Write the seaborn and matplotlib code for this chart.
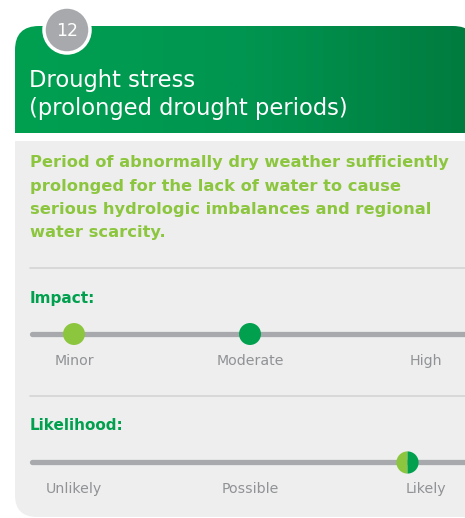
import numpy as np
import matplotlib
matplotlib.use("Agg")
import matplotlib.pyplot as plt
from matplotlib.patches import FancyBboxPatch, Rectangle
import seaborn as sns

# card content
card_number = "12"
title_lines = ["Drought stress", "(prolonged drought periods)"]
description = ["Period of abnormally dry weather sufficiently",
               "prolonged for the lack of water to cause",
               "serious hydrologic imbalances and regional",
               "water scarcity."]

impact_levels = ["Minor", "Moderate", "High"]
likelihood_levels = ["Unlikely", "Possible", "Likely"]

# rating positions on each 0..2 scale (light = current, dark = future)
impact_current = 0.0
impact_future = 1.0
likelihood_current = 1.89
likelihood_future = 1.89

GREEN = "#00a04f"
LIGHT = "#8cc63f"
TRACK = "#a7a9ac"
PANEL = "#eeeeee"
LABEL = "#909295"

sns.set_style("white")
plt.rcParams["font.family"] = ["DejaVu Sans"]

fig = plt.figure(figsize=(4.65, 5.18), dpi=100)
ax = fig.add_axes([0, 0, 1, 1])

# header with gradient
clip = FancyBboxPatch((15, 26), 462, 140, boxstyle="round,pad=0,rounding_size=24",
                      facecolor="none", edgecolor="none")
ax.add_patch(clip)
grad = np.linspace(0, 1, 256).reshape(1, -1)
cmap = matplotlib.colors.LinearSegmentedColormap.from_list("hdr", ["#00a050", "#009550", "#007a3e"])
im = ax.imshow(grad, extent=[15, 477, 133, 26], cmap=cmap, aspect="auto", zorder=1)
im.set_clip_path(clip)

for i, line in enumerate(title_lines):
    ax.text(29, 81 + i * 27, line, color="white", fontsize=16.3, va="center", ha="left", zorder=3)

# number badge
ax.add_patch(plt.Circle((67, 30), 23, facecolor=TRACK, edgecolor="white", linewidth=2.5, zorder=4))
ax.text(67, 31, card_number, color="white", fontsize=12.5, ha="center", va="center", zorder=5)

# body panel
ax.add_patch(FancyBboxPatch((15, 141), 500, 376, boxstyle="round,pad=0,rounding_size=22",
                            facecolor=PANEL, edgecolor="none", zorder=1))
ax.add_patch(Rectangle((15, 141), 500, 60, facecolor=PANEL, edgecolor="none", zorder=1))

for i, line in enumerate(description):
    ax.text(30, 163 + i * 23.3, line, color=LIGHT, fontsize=11.7, fontweight="bold",
            va="center", ha="left", zorder=3)

ax.plot([30, 470], [268, 268], color="#d4d4d4", lw=1.2, zorder=2)
ax.plot([30, 470], [396, 396], color="#d4d4d4", lw=1.2, zorder=2)


def scale(v):
    return 74 + 176 * v


def slider(label, label_y, track_y, levels, current, future):
    ax.text(30, label_y, label, color=GREEN, fontsize=11, fontweight="bold",
            va="center", ha="left", zorder=3)
    sns.lineplot(x=[32, 470], y=[track_y, track_y], color=TRACK, lw=3.8, ax=ax,
                 solid_capstyle="round", zorder=2)
    for i, lev in enumerate(levels):
        ax.text(scale(i), track_y + 27, lev, color=LABEL, fontsize=10.2,
                ha="center", va="center", zorder=3)
    if current == future:
        ax.plot(scale(current), track_y, marker="o", ms=16, fillstyle="left",
                markerfacecolor=LIGHT, markerfacecoloralt=GREEN, markeredgewidth=0, zorder=5)
    else:
        sns.scatterplot(x=[scale(current), scale(future)], y=[track_y, track_y],
                        hue=["current", "future"], palette=[LIGHT, GREEN], s=250,
                        linewidth=0, legend=False, ax=ax, zorder=5)


slider("Impact:", 298, 334, impact_levels, impact_current, impact_future)
slider("Likelihood:", 426, 462, likelihood_levels, likelihood_current, likelihood_future)

ax.set_xlim(0, 465)
ax.set_ylim(518, 0)
ax.axis("off")
fig.savefig("out.png", dpi=100)
